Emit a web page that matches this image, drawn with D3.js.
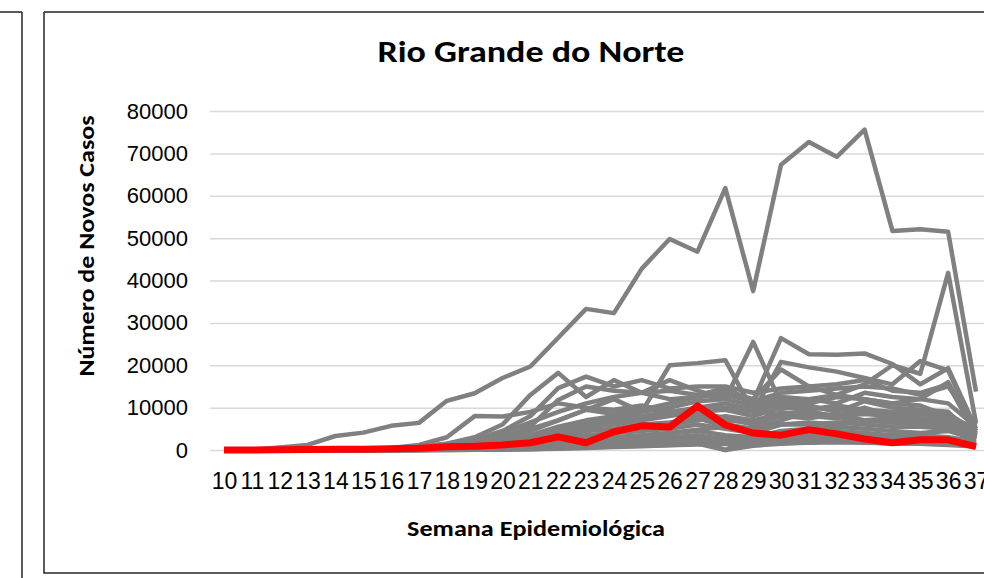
<!DOCTYPE html>
<html>
<head>
<meta charset="utf-8">
<style>
  body { margin: 0; background: #fff; }
  svg { display: block; font-family: Carlito, Calibri, Lato, sans-serif; }
  .grid line { stroke: #d9d9d9; stroke-width: 1.5; }
  .grid text { fill: #000; font-size: 22px; }
  .xaxis text { fill: #000; font-size: 23px; }
  .serie { fill: none; stroke-linejoin: round; }
</style>
<title>Rio Grande do Norte</title>
</head>
<body>
<script src="https://cdn.jsdelivr.net/npm/d3@7"></script>
<script>

// semanas epidemiológicas 10..37
var semanas = d3.range(10, 38);
var yTicks = [0, 10000, 20000, 30000, 40000, 50000, 60000, 70000, 80000];

// Rio Grande do Norte (linha vermelha)
var rioGrandeDoNorte = [0,0,50,100,150,200,300,400,780,900,1200,1700,3100,1700,4300,5700,5400,10400,5900,4000,3500,4800,3800,2600,1700,2400,2400,780];

// demais estados (linhas cinzas)
var outrosEstados = [
  [0,100,600,1200,3300,4100,5700,6400,11600,13400,17000,19700,26500,33300,32300,42800,49800,46800,61800,37500,67300,72700,69200,75600,51700,52100,51500,13800],
  [0,0,0,50,100,200,300,500,900,1500,2500,3500,5000,6000,7000,8000,9000,9500,10000,9000,11000,12000,13000,15500,20000,18000,41800,6400],
  [0,0,0,50,150,300,500,800,1500,2500,4000,6500,9000,11000,12500,13500,14000,13000,14500,11500,26400,22600,22500,22800,20300,15500,19300,5000],
  [0,0,0,0,100,200,400,600,1000,1600,2800,4500,7000,9500,12000,9000,20000,20500,21200,9000,20800,19500,18500,17000,15500,21000,18800,4500],
  [0,0,0,50,100,200,400,700,1500,3000,6000,13000,18200,12500,16500,13500,16500,14000,12000,25500,11000,10000,9500,9000,8000,8500,7500,3000],
  [0,0,0,0,50,100,300,600,1200,2500,4500,8000,14600,17300,15000,16500,14500,15000,15000,13500,14500,15000,15500,16500,14000,13500,15500,3500],
  [0,0,0,0,50,100,200,400,800,1500,3000,5500,11800,15000,14000,13500,12000,12500,14000,12000,19000,15000,13000,12000,11000,12000,16000,4000],
  [0,0,0,0,100,200,500,1200,3000,8000,7900,9000,11000,10000,9500,10500,9000,8500,7000,6500,9000,8000,7500,7000,6500,7000,6000,2500],
  [0,0,0,0,50,100,200,400,800,1500,3000,5000,7000,9500,8500,10000,9000,7500,6000,5000,11000,10500,9000,11500,10000,9500,9000,3000],
  [0,0,0,0,0,50,100,200,500,900,1800,3000,5000,6500,7000,8000,9000,10000,11000,9500,12000,11000,12500,12000,11000,10500,8000,5000],
  [0,0,0,0,0,50,100,200,400,800,1500,2500,4000,5500,6000,7000,8000,9000,7500,6000,8000,7500,8500,7000,7500,6500,6000,4000],
  [0,0,0,0,0,0,50,100,300,600,1200,2000,3000,4500,5000,6000,6500,7500,5500,5000,7000,9000,8000,10000,8000,6000,5500,3500],
  [0,0,0,0,0,0,50,100,200,400,800,1500,2500,3500,4000,4500,5000,6000,5000,4000,6000,6500,6000,7000,6500,6000,5000,3000],
  [0,0,0,0,0,0,0,50,150,300,600,1000,1800,2500,3000,3500,4000,4500,3500,3000,4500,5000,5500,5000,4500,4000,4500,2500],
  [0,0,0,0,0,0,0,50,100,200,400,800,1200,1800,2200,2800,3000,3500,2500,2000,3500,4000,4500,4000,3500,3500,3000,2000],
  [0,0,0,0,0,0,0,0,100,150,300,500,900,1200,1500,2000,2500,3000,2000,1500,2500,3000,3000,3500,3000,2500,2500,1500],
  [0,0,0,0,0,0,0,0,50,100,200,400,600,900,1200,1500,1800,2200,1500,1200,2000,2200,2500,2500,2200,2000,1800,1200],
  [0,0,0,0,0,0,0,0,0,50,100,200,400,600,800,1000,1200,1500,0,1000,1500,1800,2000,1800,1500,1500,1200,800],
  [0,0,0,0,0,0,0,50,100,300,600,1000,1600,2200,2600,3000,3400,2500,0,3000,3500,3800,4000,3500,3200,3000,2800,1800],
  [0,0,0,0,0,50,100,300,600,1200,2000,3500,5500,7000,8000,9500,11000,12500,13000,11500,13500,14000,14500,15000,14500,13000,15000,6000],
  [0,0,0,0,0,0,100,200,400,800,1500,2800,4500,6000,7500,9000,10000,11500,12000,10500,12500,12000,11000,13500,12500,12000,11000,5500],
  [0,0,0,0,0,0,50,150,300,600,1100,2000,3500,5000,6500,7500,8500,9000,9500,8000,10000,9500,10500,9500,9000,9000,8500,4500],
  [0,0,0,0,0,0,0,100,200,400,700,1200,2000,3000,4000,5000,6000,7000,8000,7000,8500,9000,8000,8500,8000,7500,7000,3800],
  [0,0,0,0,0,0,0,0,100,200,400,700,1200,1800,2500,3200,4000,4800,5500,4500,6000,6000,6500,6000,5500,5500,5000,3200],
  [0,0,0,0,0,0,0,0,50,100,200,400,700,1000,1400,1800,2200,2600,3000,2600,3000,3200,3500,3200,3000,2800,2600,1600],
  [0,0,0,0,0,0,0,0,0,50,100,200,300,500,700,900,1100,1300,1500,1300,1600,1700,1800,1700,1600,1500,1400,900]
];

var W = 984, H = 578;
var svg = d3.select('body').append('svg')
    .attr('width', W)
    .attr('height', H);

svg.append('rect').attr('width', W).attr('height', H).attr('fill', '#fff');

// borda do gráfico vizinho (à esquerda)
svg.append('path').attr('d', 'M0,12H22').attr('stroke', '#595959').attr('stroke-width', 2).attr('fill', 'none');
svg.append('path').attr('d', 'M22,12V578').attr('stroke', '#262626').attr('stroke-width', 1.5).attr('fill', 'none');

// borda do gráfico
svg.append('path').attr('d', 'M44,12H984').attr('stroke', '#595959').attr('stroke-width', 2).attr('fill', 'none');
svg.append('path').attr('d', 'M44,12V573H984').attr('stroke', '#262626').attr('stroke-width', 1.5).attr('fill', 'none');

var plotLeft = 210, plotRight = 990;
var x = d3.scalePoint()
    .domain(semanas)
    .range([224, 976]);
var y = d3.scaleLinear()
    .domain([0, 80000])
    .range([450, 111]);

// linhas de grade + rótulos do eixo y
svg.append('g')
    .attr('class', 'grid')
    .attr('transform', 'translate(' + plotLeft + ',0)')
    .call(d3.axisLeft(y).tickValues(yTicks).tickSize(-(plotRight - plotLeft)).tickPadding(22).tickFormat(d3.format('d')))
    .call(g => g.select('.domain').remove());

// rótulos do eixo x
svg.append('g')
    .attr('class', 'xaxis')
    .attr('transform', 'translate(0,450)')
    .call(d3.axisBottom(x).tickSize(0).tickPadding(23))
    .call(g => g.select('.domain').remove());

var line = d3.line()
    .x((d, i) => x(semanas[i]))
    .y(d => y(d));

svg.selectAll('.cinza')
    .data(outrosEstados)
    .enter().append('path')
    .attr('class', 'serie cinza')
    .attr('d', line)
    .attr('stroke', '#808080')
    .attr('stroke-width', 4.5);

svg.append('path')
    .datum(rioGrandeDoNorte)
    .attr('class', 'serie')
    .attr('d', line)
    .attr('stroke', '#ff0000')
    .attr('stroke-width', 7);

// títulos (a fonte do original é mais larga, daí o scale horizontal)
svg.append('text')
    .attr('transform', 'translate(531,62) scale(1.2,1)')
    .attr('text-anchor', 'middle')
    .style('font-size', '30px').style('font-weight', 'bold')
    .text('Rio Grande do Norte');

svg.append('text')
    .attr('transform', 'translate(94,246) rotate(-90) scale(1.18,1)')
    .attr('text-anchor', 'middle')
    .style('font-size', '22px').style('font-weight', 'bold')
    .text('Número de Novos Casos');

svg.append('text')
    .attr('transform', 'translate(536,536) scale(1.19,1)')
    .attr('text-anchor', 'middle')
    .style('font-size', '22px').style('font-weight', 'bold')
    .text('Semana Epidemiológica');

</script>
</body>
</html>
